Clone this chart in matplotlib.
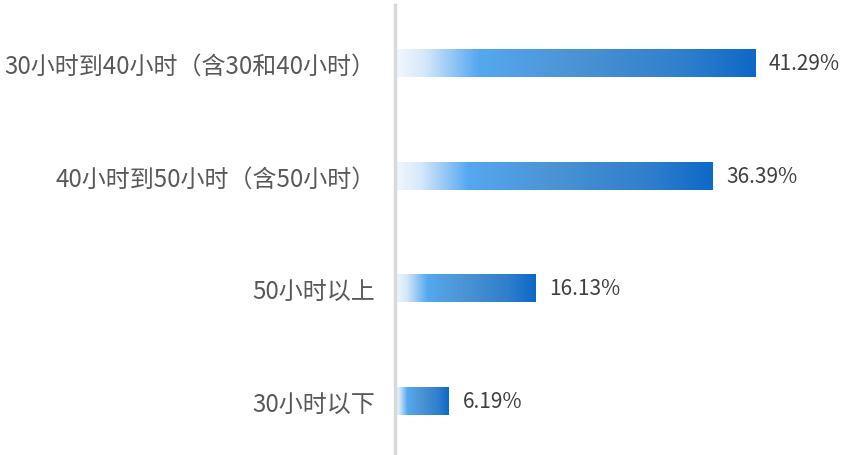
import matplotlib
matplotlib.use("Agg")
import matplotlib.pyplot as plt
import numpy as np
from matplotlib.colors import LinearSegmentedColormap

plt.rcParams['font.family'] = ['Noto Sans CJK SC', 'DejaVu Sans']

categories = ["30小时到40小时（含30和40小时）", "40小时到50小时（含50小时）", "50小时以上", "30小时以下"]
values = [41.29, 36.39, 16.13, 6.19]
value_labels = ["41.29%", "36.39%", "16.13%", "6.19%"]

W, H = 846, 456
fig = plt.figure(figsize=(W / 100, H / 100), dpi=100)
ax_left = 395 / W
ax = fig.add_axes([ax_left, 0.0, 1 - ax_left, 1 - 6 / H])

cmap = LinearSegmentedColormap.from_list(
    "grad",
    [(0.0, "#f2f7fd"), (0.08, "#d6e8fa"), (0.23, "#55a8f0"),
     (0.5, "#4b93d3"), (0.8, "#2f7fcd"), (1.0, "#0e68c7")])
grad = np.linspace(0, 1, 256).reshape(1, -1)

bar_h = 0.245
for i, v in enumerate(values):
    ax.imshow(grad, cmap=cmap, aspect="auto",
              extent=(0, v, i + bar_h / 2, i - bar_h / 2), zorder=2,
              interpolation="bilinear")
    ax.text(v + 1.6, i, value_labels[i], va="center", ha="left",
            fontsize=15, color="#404040")

ax.set_xlim(0, (W - 395) / 8.72)
ax.set_ylim((456 - 64) / 112.7, -(64 - 6) / 112.7)
ax.set_yticks(range(len(categories)))
ax.set_yticklabels(categories, fontsize=17.3, color="#595959")
ax.tick_params(axis="y", length=0, pad=14)
ax.set_xticks([])
for s in ["top", "right", "bottom"]:
    ax.spines[s].set_visible(False)
ax.spines["left"].set_color("#d9d9d9")
ax.spines["left"].set_linewidth(2.5)

fig.savefig("out.png", dpi=100)
